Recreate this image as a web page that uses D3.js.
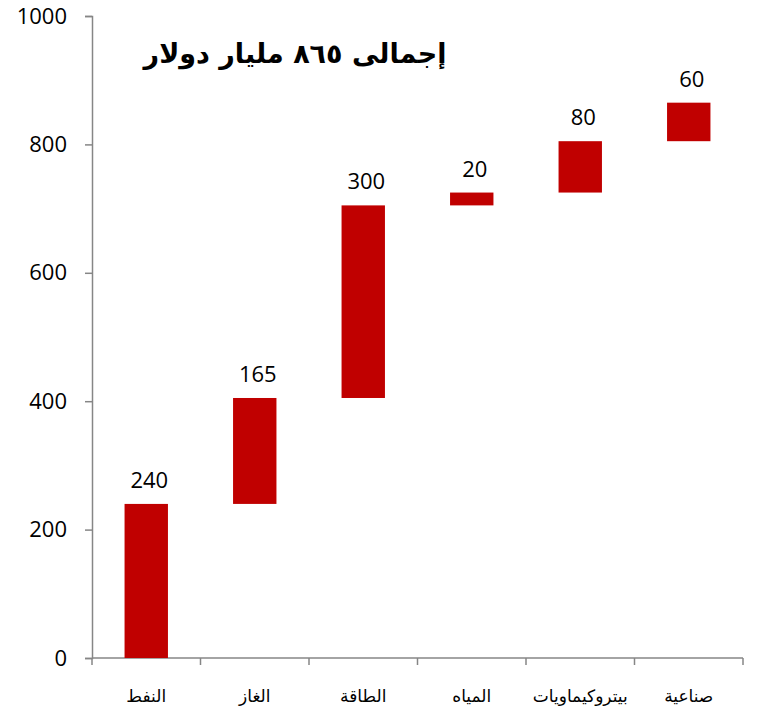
<!DOCTYPE html>
<html>
<head>
<meta charset="utf-8">
<script src="https://cdn.jsdelivr.net/npm/d3@7"></script>
<style>
  body { margin: 0; background: #fff; }
  svg { display: block; }
</style>
</head>
<body>
<svg id="chart" width="764" height="712"></svg>
<script>
const categories = ["النفط", "الغاز", "الطاقة", "المياه", "بيتروكيماويات", "صناعية"];
const values = [240, 165, 300, 20, 80, 60];
const yTicks = [0, 200, 400, 600, 800, 1000];
const title = "إجمالى ٨٦٥ مليار دولار";

const BAR_COLOR = "#C00000";
const AXIS_COLOR = "#868686";
const NUM_FONT = "'Open Sans', 'Liberation Sans', sans-serif";
const AR_FONT = "'DejaVu Sans', sans-serif";

const width = 764;
const height = 712;
const margin = { top: 16, right: 21, bottom: 54, left: 92 };

const svg = d3.select("#chart");

// waterfall: each bar floats on the running total
let running = 0;
const steps = values.map((v, i) => {
  const start = running;
  running += v;
  return { name: categories[i], value: v, start, end: running };
});

const x = d3
  .scaleBand()
  .domain(categories)
  .range([margin.left, width - margin.right])
  .paddingInner(0.6)
  .paddingOuter(0.3);

const y = d3
  .scaleLinear()
  .domain([0, 1000])
  .range([height - margin.bottom, margin.top]);

// y axis
const yAxis = svg
  .append("g")
  .attr("transform", `translate(${margin.left},0)`)
  .call(
    d3.axisLeft(y).tickValues(yTicks).tickFormat(d3.format("d")).tickSize(7).tickPadding(18)
  );

yAxis.select(".domain").attr("stroke", AXIS_COLOR).attr("stroke-width", 1.5);
yAxis.selectAll(".tick line").attr("stroke", AXIS_COLOR).attr("stroke-width", 1.5);
yAxis
  .selectAll(".tick text")
  .attr("fill", "#000")
  .attr("font-size", "22px")
  .attr("font-family", NUM_FONT);

// x axis: ticks on band boundaries
const xLine = svg.append("g");
const x0 = margin.left;
const x1 = width - margin.right;
const yBase = y(0);
const step = (x1 - x0) / categories.length;

xLine
  .append("line")
  .attr("x1", x0)
  .attr("x2", x1)
  .attr("y1", yBase)
  .attr("y2", yBase)
  .attr("stroke", AXIS_COLOR)
  .attr("stroke-width", 1.5);

xLine
  .selectAll("line.tick")
  .data(d3.range(categories.length + 1))
  .join("line")
  .attr("class", "tick")
  .attr("x1", (i) => x0 + i * step)
  .attr("x2", (i) => x0 + i * step)
  .attr("y1", yBase)
  .attr("y2", yBase + 7)
  .attr("stroke", AXIS_COLOR)
  .attr("stroke-width", 1.5);

xLine
  .selectAll("text")
  .data(categories)
  .join("text")
  .attr("x", (d) => x(d) + x.bandwidth() / 2)
  .attr("y", 702)
  .attr("text-anchor", "middle")
  .attr("direction", "rtl")
  .attr("font-family", AR_FONT)
  .attr("font-size", "17px")
  .attr("fill", "#000")
  .text((d) => d);

// bars
svg
  .append("g")
  .selectAll("rect")
  .data(steps)
  .join("rect")
  .attr("x", (d) => x(d.name))
  .attr("width", x.bandwidth())
  .attr("y", (d) => y(d.end))
  .attr("height", (d) => y(d.start) - y(d.end))
  .attr("fill", BAR_COLOR);

// value labels
svg
  .append("g")
  .selectAll("text")
  .data(steps)
  .join("text")
  .attr("x", (d) => x(d.name) + x.bandwidth() / 2 + 3)
  .attr("y", (d) => y(d.end) - 16)
  .attr("text-anchor", "middle")
  .attr("font-family", NUM_FONT)
  .attr("font-size", "22px")
  .attr("fill", "#000")
  .text((d) => d.value);

// title
svg
  .append("text")
  .attr("x", 295)
  .attr("y", 63)
  .attr("text-anchor", "middle")
  .attr("direction", "rtl")
  .attr("font-family", AR_FONT)
  .attr("font-weight", "bold")
  .attr("font-size", "27px")
  .attr("fill", "#000")
  .text(title);
</script>
</body>
</html>
